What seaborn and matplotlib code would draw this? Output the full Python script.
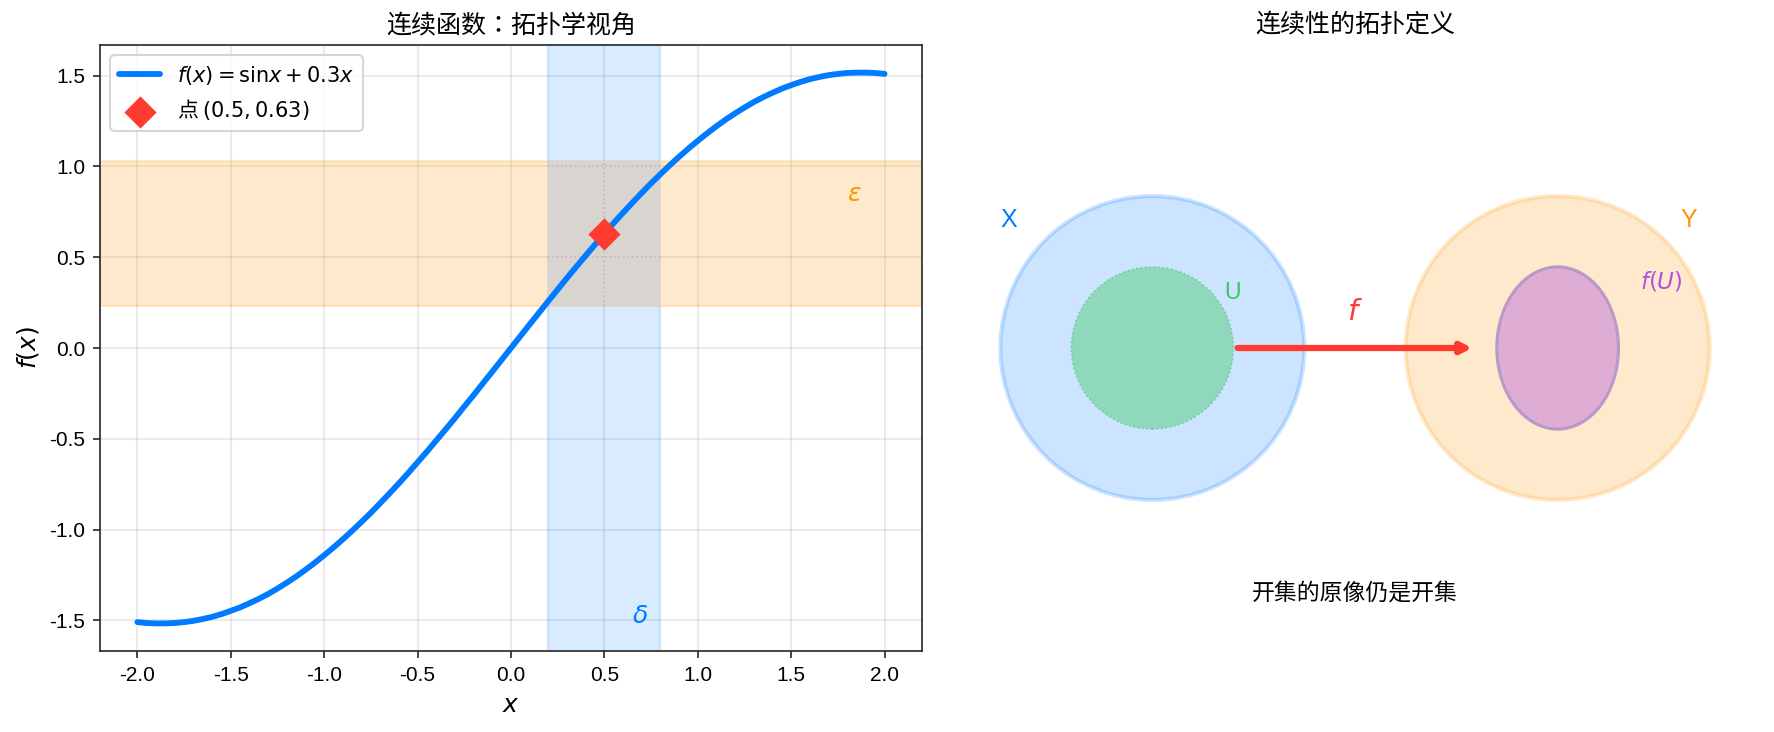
import matplotlib
matplotlib.use("Agg")
import matplotlib.pyplot as plt
from matplotlib.patches import Circle, Ellipse, Rectangle
import seaborn as sns

sns.set_style("ticks")
plt.rcParams['font.family'] = ['Liberation Sans', 'Noto Sans CJK TC']
plt.rcParams['axes.unicode_minus'] = False
plt.rcParams['text.color'] = 'black'
plt.rcParams['axes.labelcolor'] = 'black'
plt.rcParams['xtick.labelcolor'] = 'black'
plt.rcParams['ytick.labelcolor'] = 'black'

BLUE = "#007AFF"
ORANGE = "#FF9500"
GREEN = "#34C759"
RED = "#FF3B30"
PURPLE = "#AF52DE"
CJK = 'Noto Sans CJK TC'

### Data
curve_x = [-2.0, -1.95, -1.9, -1.85, -1.8, -1.75, -1.7, -1.65, -1.6, -1.55, -1.5, -1.45, -1.4, -1.35,
           -1.3, -1.25, -1.2, -1.15, -1.1, -1.05, -1.0, -0.95, -0.9, -0.85, -0.8, -0.75, -0.7, -0.65,
           -0.6, -0.55, -0.5, -0.45, -0.4, -0.35, -0.3, -0.25, -0.2, -0.15, -0.1, -0.05, 0.0,
           0.05, 0.1, 0.15, 0.2, 0.25, 0.3, 0.35, 0.4, 0.45, 0.5, 0.55, 0.6, 0.65, 0.7, 0.75, 0.8,
           0.85, 0.9, 0.95, 1.0, 1.05, 1.1, 1.15, 1.2, 1.25, 1.3, 1.35, 1.4, 1.45, 1.5, 1.55, 1.6,
           1.65, 1.7, 1.75, 1.8, 1.85, 1.9, 1.95, 2.0]
curve_y = [-1.509, -1.514, -1.516, -1.516, -1.514, -1.509, -1.502, -1.492, -1.480, -1.465, -1.447,
           -1.428, -1.405, -1.381, -1.354, -1.324, -1.292, -1.258, -1.221, -1.182, -1.141, -1.098,
           -1.053, -1.006, -0.957, -0.907, -0.854, -0.800, -0.745, -0.688, -0.629, -0.570, -0.509,
           -0.448, -0.386, -0.322, -0.259, -0.194, -0.130, -0.065, 0.0,
           0.065, 0.130, 0.194, 0.259, 0.322, 0.386, 0.448, 0.509, 0.570, 0.629, 0.688, 0.745,
           0.800, 0.854, 0.907, 0.957, 1.006, 1.053, 1.098, 1.141, 1.182, 1.221, 1.258, 1.292,
           1.324, 1.354, 1.381, 1.405, 1.428, 1.447, 1.465, 1.480, 1.492, 1.502, 1.509, 1.514,
           1.516, 1.516, 1.514, 1.509]
point_x = [0.5]
point_y = [0.63]
delta_band = [0.2, 0.8]
eps_band = [0.23, 1.03]
ticks = [-2.0, -1.5, -1.0, -0.5, 0.0, 0.5, 1.0, 1.5, 2.0]
yticks = [-1.5, -1.0, -0.5, 0.0, 0.5, 1.0, 1.5]
overlap_v = [0.5]
overlap_h = [0.5, 1.0]

W, H = 1774, 732
fig = plt.figure(figsize=(W / 150, H / 150), dpi=150)
ax1 = fig.add_axes([100 / W, 1 - 651 / H, 822 / W, 606 / H])
ax2 = fig.add_axes([949 / W, 1 - 652 / H, 812 / W, 608 / H])

### Left: function
ax1.axvspan(delta_band[0], delta_band[1], color=BLUE, alpha=0.15, zorder=1)
ax1.axhspan(eps_band[0], eps_band[1], color=ORANGE, alpha=0.2, zorder=1)
ax1.add_patch(Rectangle((delta_band[0], eps_band[0]), delta_band[1] - delta_band[0],
                        eps_band[1] - eps_band[0], facecolor="#D8D5D1", lw=0, zorder=1.5))
# faint dots where the grid runs through the overlap
for v in overlap_v:
    ax1.plot([v, v], eps_band, color="#D98CC8", alpha=0.6, lw=0.8, ls=':', zorder=1.6)
for h in overlap_h:
    ax1.plot(delta_band, [h, h], color="#D98CC8", alpha=0.6, lw=0.8, ls=':', zorder=1.6)
sns.lineplot(x=curve_x, y=curve_y, color=BLUE, lw=2.8, ax=ax1, zorder=3, label=r'$f(x) = \mathrm{sin}x + 0.3x$')
sns.scatterplot(x=point_x, y=point_y, color=RED, marker="D", s=120, ax=ax1, zorder=4,
                linewidth=0, label=r'点 $(0.5, 0.63)$')
ax1.set_xlim(-2.2, 2.2)
ax1.set_ylim(-1.668, 1.668)
ax1.set_xticks(ticks)
ax1.set_yticks(yticks)
ax1.tick_params(labelsize=10)
ax1.grid(True, alpha=0.25, color="#b0b0b0", lw=1)
ax1.set_axisbelow(True)
for s in ax1.spines.values():
    s.set_visible(True)
ax1.set_xlabel(r'$x$', fontsize=12)
ax1.set_ylabel(r'$f(x)$', fontsize=12)
ax1.set_title('连续函数：拓扑学视角', fontsize=12, family=CJK)
ax1.legend(loc='upper left', frameon=True, prop=dict(family=CJK, size=10))
ax1.text(0.69, -1.54, r'$\delta$', color=BLUE, fontsize=12, ha='center', va='bottom')
ax1.text(1.84, 0.85, r'$\varepsilon$', color=ORANGE, fontsize=12, ha='center', va='center')

### Right: topology sketch
ax2.add_patch(Circle((-2, 0), 1.5, color=BLUE, alpha=0.2, lw=2))
ax2.add_patch(Circle((-2, 0), 0.8, facecolor=GREEN, alpha=0.4, lw=0))
ax2.add_patch(Circle((-2, 0), 0.8, fill=False, edgecolor=GREEN, alpha=0.5, lw=0.8, ls=':'))
ax2.add_patch(Circle((2, 0), 1.5, color=ORANGE, alpha=0.2, lw=2))
ax2.add_patch(Ellipse((2, 0), 1.2, 1.6, facecolor=PURPLE, alpha=0.4, lw=0))
ax2.add_patch(Ellipse((2, 0), 1.2, 1.6, fill=False, edgecolor="#B79AC8", lw=1.5))
ax2.annotate('', xy=(1.2, 0), xytext=(-1.2, 0),
             arrowprops=dict(arrowstyle='->', color=RED, lw=3))
ax2.text(-3.42, 1.26, 'X', color=BLUE, fontsize=12, ha='center', va='center')
ax2.text(3.29, 1.26, 'Y', color=ORANGE, fontsize=12, ha='center', va='center')
ax2.text(-1.21, 0.55, 'U', color=GREEN, fontsize=11, ha='center', va='center')
ax2.text(3.02, 0.66, r'$f(U)$', color=PURPLE, fontsize=11, ha='center', va='center')
ax2.text(0, 0.36, r'$f$', color=RED, fontsize=14, ha='center', va='center')
ax2.text(0, -2.43, '开集的原像仍是开集', fontsize=11, ha='center', va='center', family=CJK)
ax2.set_xlim(-4, 4)
ax2.set_ylim(-3, 3)
ax2.set_aspect('equal')
ax2.axis('off')
ax2.set_title('连续性的拓扑定义', fontsize=12, family=CJK)

fig.savefig('out.png', dpi=150)
